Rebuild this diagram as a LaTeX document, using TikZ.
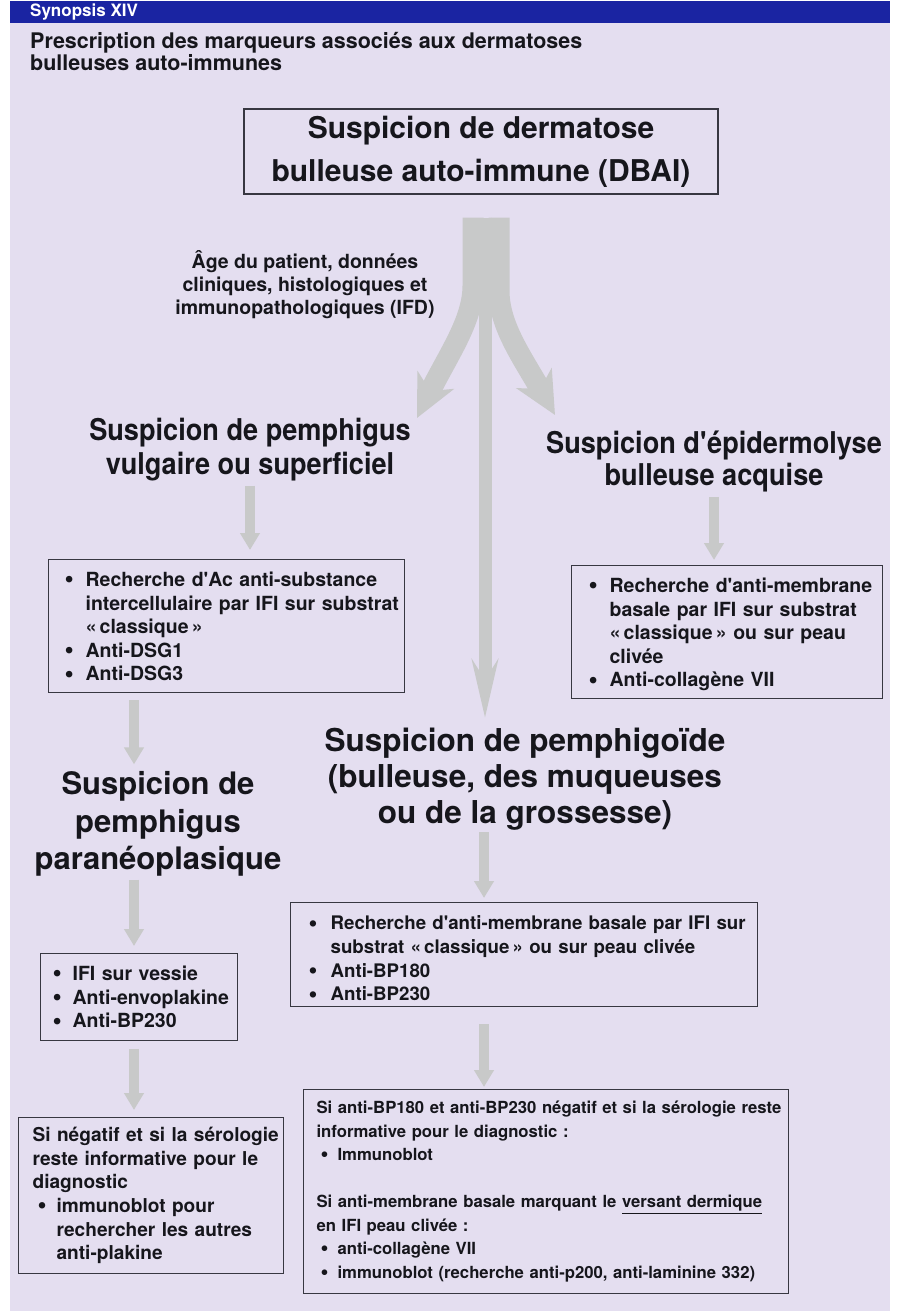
\documentclass[tikz,border=0pt]{standalone}
\usepackage{fontspec}
\setmainfont{TeX Gyre Heros}
\newfontfamily\narrowfont[FakeStretch=0.905]{TeX Gyre Heros}
\usetikzlibrary{calc, positioning, arrows.meta}
\definecolor{BarColour}{RGB}{26,36,162}
\definecolor{PanelColour}{RGB}{228,222,240}
\definecolor{ArrowGrey}{RGB}{200,201,201}
\definecolor{LineGrey}{RGB}{55,55,65}
\definecolor{TextBlack}{RGB}{22,22,28}
\newlength{\bhang}
\setlength{\bhang}{21pt}
\newcommand{\ap}{\textquotesingle}
% list layout inside a box: left padding, no unwanted wrapping
\newcommand{\boxsetup}[1]{\raggedright\leftskip=#1\rightskip=-60pt plus 1fil\parfillskip=0pt plus 1fil}
\newcommand{\boxend}[1]{\par\vspace{#1}}
\newcommand{\bitem}[2][0pt]{\par\hangindent=\bhang\hangafter=1\noindent
  \makebox[\bhang][l]{\hspace{#1}\smash{\raisebox{-0.07em}{\scalebox{1.35}{\textbullet}}}}#2}

\begin{document}
\begin{tikzpicture}[
  x=1pt, y=-1pt,
  every node/.style={text=TextBlack, font=\bfseries},
  listbox/.style={draw=LineGrey, line width=1.2pt, anchor=north west, inner xsep=6pt,
    font=\fontsize{19.5}{23.6}\selectfont\bfseries},
  bigtext/.style={align=center, inner sep=0pt},
  flow/.style={draw=ArrowGrey, line width=10pt, -{Triangle[length=17pt, width=19pt]}},
  branch/.style={draw=ArrowGrey, line width=21pt, -{Stealth[length=42pt, width=40pt, inset=12pt]}},
]
% Background and header
\fill[white] (0,0) rectangle (900,1314);
\useasboundingbox (0,0) rectangle (900,1314);
\fill[PanelColour] (10,23) rectangle (890,1311);
\fill[BarColour]   (10,1) rectangle (890,23);
\node[anchor=west, inner sep=0pt, text=white, font=\fontsize{17}{19}\selectfont\bfseries] (synopsis) at (30,12) {Synopsis XIV};
\node[anchor=west, align=left, inner sep=0pt, font=\fontsize{21.5}{22}\selectfont\bfseries] (title) at (30,52)
  {Prescription des marqueurs associés aux dermatoses\\bulleuses auto-immunes};

% Top box
\node[draw=LineGrey, line width=1.2pt, minimum width=474pt, minimum height=85pt, align=center,
  font=\fontsize{30}{43}\selectfont\bfseries] (dbai) at (481,151.5)
  {Suspicion de dermatose\\bulleuse auto-immune (DBAI)};
\node[bigtext, font=\fontsize{19.5}{23}\selectfont\bfseries] (criteria) at (305,285)
  {Âge du patient, données\\cliniques, histologiques et\\immunopathologiques (IFD)};

% Three suspicions
\node[bigtext, font=\narrowfont\fontsize{30}{34}\selectfont\bfseries] (pv) at (250,450)
  {Suspicion de pemphigus\\vulgaire ou superficiel};
\node[bigtext, font=\narrowfont\fontsize{30}{32}\selectfont\bfseries] (eba) at (714,461)
  {Suspicion d\ap épidermolyse\\bulleuse acquise};
\node[bigtext, font=\fontsize{31.5}{36}\selectfont\bfseries] (bp) at (525,779)
  {Suspicion de pemphigoïde\\(bulleuse, des muqueuses\\ou de la grossesse)};
\node[bigtext, font=\fontsize{31}{37.5}\selectfont\bfseries] (para) at (158,824)
  {Suspicion de\\pemphigus\\paranéoplasique};

% Marker boxes
\node[listbox, text width=344pt, minimum width=356pt, minimum height=132pt] (pvbox) at (48,559)
  {\boxsetup{10pt}%
   \bitem{Recherche d\ap Ac anti-substance\newline intercellulaire par IFI sur substrat\newline «\,classique\,»}
   \bitem{Anti-DSG1}
   \bitem{Anti-DSG3}\boxend{8pt}};
\node[listbox, text width=299pt, minimum width=311pt, minimum height=133pt] (ebabox) at (571,565)
  {\boxsetup{11pt}%
   \bitem{Recherche d\ap anti-membrane\newline basale par IFI sur substrat\newline «\,classique\,» ou sur peau\newline clivée}
   \bitem{Anti-collagène VII}\boxend{4pt}};
\node[listbox, text width=455pt, minimum width=467pt, minimum height=104pt,
  font=\fontsize{18.7}{23.6}\selectfont\bfseries] (bpbox) at (290,902)
  {\boxsetup{12pt}\setlength{\bhang}{22pt}%
   \bitem{Recherche d\ap anti-membrane basale par IFI sur\newline substrat «\,classique\,» ou sur peau clivée}
   \bitem{Anti-BP180}
   \bitem{Anti-BP230}\boxend{2pt}};
\node[listbox, text width=185pt, minimum width=197pt, minimum height=86pt] (parabox) at (40,953)
  {\boxsetup{6pt}\setlength{\bhang}{20pt}%
   \bitem{IFI sur vessie}
   \bitem{Anti-envoplakine}
   \bitem{Anti-BP230}\boxend{9pt}};
\node[listbox, text width=253pt, minimum width=265pt, minimum height=156pt,
  font=\fontsize{19.1}{23.6}\selectfont\bfseries] (paranext) at (18,1117)
  {\boxsetup{8pt}\setlength{\bhang}{24pt}%
   \noindent Si négatif et si la sérologie\newline reste informative pour le\newline diagnostic
   \bitem[5pt]{immunoblot pour\newline rechercher les autres\newline anti-plakine}\boxend{0pt}};
\node[listbox, text width=473pt, minimum width=485pt, minimum height=204pt,
  font=\fontsize{16.7}{23.5}\selectfont\bfseries] (bpnext) at (303,1089)
  {\boxsetup{7pt}\setlength{\bhang}{21pt}%
   \noindent Si anti-BP180 et anti-BP230 négatif et si la sérologie reste\newline informative pour le diagnostic :
   \bitem[4pt]{Immunoblot}
   \par\vspace{23.5pt}
   \noindent Si anti-membrane basale marquant le \underline{versant dermique}\newline en IFI peau clivée :
   \bitem[4pt]{anti-collagène VII}
   \bitem[4pt]{immunoblot (recherche anti-p200, anti-laminine 332)}\boxend{0pt}};

% Fork out of the top box
\coordinate (fork) at ($(dbai.south)+(5,23)$);
\coordinate (pvtip)  at (417,418);
\coordinate (ebatip) at (555,415);
\coordinate (bptip)  at (485,718);
\draw[draw=ArrowGrey, line width=13pt, -{Stealth[length=58pt, width=26pt, inset=20pt]}] ($(fork)+(-1,0)$) -- (bptip);
\draw[branch] ($(fork)+(-13,0)$) -- ++(0,68) .. controls ++(0,35) and (448,355) .. (pvtip);
\draw[branch] ($(fork)+(13,0)$) -- ++(0,73) .. controls ++(0,35) and (522,357) .. (ebatip);

% Columns of the straight arrows
\coordinate (paracol) at (134,0);
\coordinate (bpcol) at (484,0);
\draw[flow, shorten <=4pt, shorten >=9pt] (pv.south) -- (pv.south |- pvbox.north);
\draw[flow, shorten <=5pt, shorten >=5pt] (eba.south) -- (eba.south |- ebabox.north);
\draw[flow, shorten <=7pt, shorten >=7pt] (pvbox.south -| paracol) -- (para.north -| paracol);
\draw[flow, shorten <=3pt, shorten >=7pt] (para.south -| paracol) -- (parabox.north -| paracol);
\draw[flow, shorten <=8pt, shorten >=7pt] (parabox.south -| paracol) -- (paranext.north -| paracol);
\draw[flow, shorten <=2pt, shorten >=4pt] (bp.south -| bpcol) -- (bpbox.north -| bpcol);
\draw[flow, shorten <=17pt, shorten >=2pt] (bpbox.south -| bpcol) -- (bpnext.north -| bpcol);
\end{tikzpicture}
\end{document}
